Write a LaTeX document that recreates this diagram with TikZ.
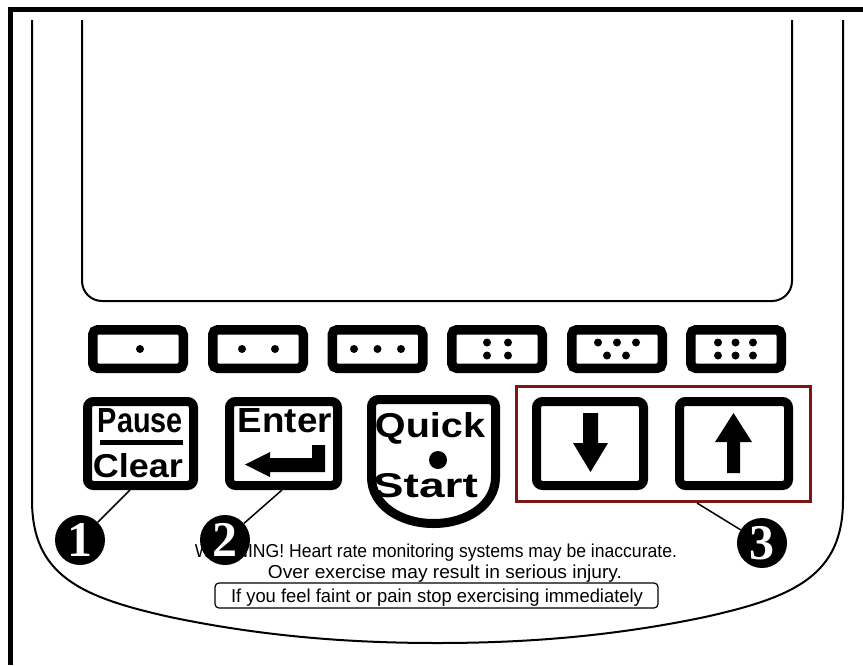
\documentclass[tikz,border=0pt]{standalone}
\usepackage{fontspec}
\setmainfont{Liberation Sans}
\newfontfamily\numfont{Liberation Serif}
\usepackage{graphicx}
\definecolor{boxred}{HTML}{7D1517}
\begin{document}
\begin{tikzpicture}[x=1pt,y=-1pt,
  smallkey/.style={draw,line width=9.5pt,rounded corners=5pt,minimum width=90.5pt,minimum height=38.5pt,inner sep=0pt},
  bigkey/.style={draw,line width=9pt,rounded corners=6pt,minimum height=84pt,inner sep=0pt},
  keytext/.style={inner sep=0pt,anchor=base,font=\bfseries},
  warn/.style={inner sep=0pt,anchor=base,font=\fontsize{18.7}{20}\selectfont},
  callout/.style={circle,fill=black,minimum size=50pt,inner sep=0pt,text=white,font=\numfont\bfseries\fontsize{50}{50}\selectfont},
  leader/.style={line width=1.5pt},
  outline/.style={line width=2pt}]
\useasboundingbox (0,0) rectangle (863,665);
% frame
\draw[line width=5pt] (10.5,665) -- (10.5,9) -- (863,9);
% body outline
\draw[outline] (32,20) -- (32,500) .. controls (32,575) and (80,597) .. (170,617)
  .. controls (270,638) and (360,643) .. (437.5,643)
  .. controls (515,643) and (605,638) .. (705,617)
  .. controls (795,597) and (843,575) .. (843,500) -- (843,20);
% screen
\draw[outline,rounded corners=20pt] (82,20) -- (82,301) -- (792,301) -- (792,20);
% small keys
\node[smallkey] (k1) at (138,349) {};
\node[smallkey] (k2) at (258,349) {};
\node[smallkey] (k3) at (377.5,349) {};
\node[smallkey] (k4) at (497,349) {};
\node[smallkey] (k5) at (617,349) {};
\node[smallkey] (k6) at (736,349) {};
\fill (140,349) circle (4);
\fill (242,349) circle (4) (275,349) circle (4);
\fill (354,349) circle (4) (377.5,349) circle (4) (401,349) circle (4);
\fill (487,342.5) circle (4) (508,342.5) circle (4) (487,355.5) circle (4) (508,355.5) circle (4);
\fill (598,342.5) circle (4) (617,342.5) circle (4) (636,342.5) circle (4) (607,355.5) circle (4) (626,355.5) circle (4);
\fill (718,342.5) circle (4) (735.5,342.5) circle (4) (753,342.5) circle (4) (718,355.5) circle (4) (735.5,355.5) circle (4) (753,355.5) circle (4);
% big keys
\node[bigkey,minimum width=106pt] (pausekey) at (140.5,443.5) {};
\node[bigkey,minimum width=108pt] (enterkey) at (283.5,443.5) {};
\node[bigkey,minimum width=107pt] (downkey) at (590,443.5) {};
\node[bigkey,minimum width=109pt] (upkey) at (734,443.5) {};
% pause / clear
\node[keytext] (pause) at (140.5,432) {\resizebox{85pt}{24pt}{Pause}};
\fill (100,440) rectangle (183,445);
\node[keytext] (clear) at (138,477) {\resizebox{90pt}{24pt}{Clear}};
% enter
\node[keytext] (enter) at (285,432) {\resizebox{94pt}{24pt}{Enter}};
\fill (325,445) -- (325,472) -- (270,472) -- (270,477) -- (245,464.5) -- (270,452) -- (270,458) -- (312,458) -- (312,445) -- cycle;
% quick start
\draw[line width=9pt,rounded corners=7pt] (433.5,523.5) .. controls (400,523.5) and (371.5,505) .. (371.5,470)
  -- (371.5,399.5) -- (495.5,399.5) -- (495.5,470)
  .. controls (495.5,505) and (467,523.5) .. (433.5,523.5);
\node[keytext] (quick) at (430,437) {\resizebox{110pt}{25pt}{Quick}};
\fill (438,460) circle (9);
\node[keytext] (start) at (425.5,497) {\resizebox{105pt}{24pt}{Start}};
% arrows
\fill (583,413) -- (598,413) -- (598,443) -- (608,443) -- (590.5,472) -- (573,443) -- (583,443) -- cycle;
\fill (733.5,413) -- (752,442) -- (740,442) -- (740,473) -- (727,473) -- (727,442) -- (715,442) -- cycle;
% red box
\node[draw=boxred,line width=3pt,minimum width=294pt,minimum height=115pt,inner sep=0pt] (redbox) at (663.5,444) {};
% warning text
\node[warn] (w1) at (436,557) {\resizebox{482pt}{\height}{WARNING! Heart rate monitoring systems may be inaccurate.}};
\node[warn] (w2) at (445,578) {\resizebox{354pt}{\height}{Over exercise may result in serious injury.}};
\node[draw,rounded corners=4pt,line width=1.2pt,minimum width=443pt,minimum height=25pt,inner sep=0pt] (faintbox) at (436.5,595.5) {};
\node[warn] (w3) at (437,602) {\resizebox{412pt}{\height}{If you feel faint or pain stop exercising immediately}};
% callouts
\coordinate (p1) at (130,490);
\coordinate (p2) at (282,490);
\coordinate (p3) at (697,503);
\node[callout] (c1) at (80,540) {1};
\node[callout] (c2) at (225,540) {2};
\node[callout] (c3) at (762,543) {3};
\draw[leader] (c1) -- (p1);
\draw[leader] (c2) -- (p2);
\draw[leader] (c3) -- (p3);
\end{tikzpicture}
\end{document}
